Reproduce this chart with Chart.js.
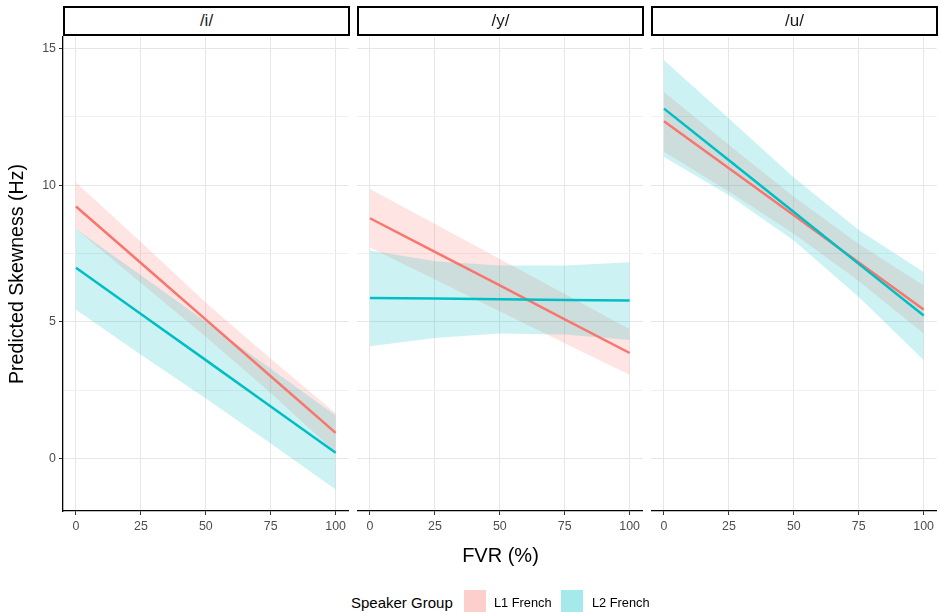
<!DOCTYPE html>
<html>
<head>
<meta charset="utf-8">
<script src="https://cdn.jsdelivr.net/npm/chart.js@4.4.1/dist/chart.umd.min.js"></script>
<style>
html,body{margin:0;padding:0;background:#fff;width:941px;height:612px;overflow:hidden;font-family:"Liberation Sans",Arial,sans-serif;}
canvas{position:absolute;top:0;}
.strip{position:absolute;top:6px;height:30px;box-sizing:border-box;border:2px solid #000;background:#fff;font-size:17px;color:#1a1a1a;text-align:center;line-height:26px;}
.txt{position:absolute;white-space:nowrap;color:#000;}
.key{position:absolute;top:590px;width:22px;height:22px;}
</style>
</head>
<body>
<canvas id="c1" width="350" height="545" style="left:0px"></canvas>
<canvas id="c2" width="287" height="545" style="left:357px"></canvas>
<canvas id="c3" width="287" height="545" style="left:651px"></canvas>

<div class="strip" id="s1" style="left:63px;width:287px;"></div>
<div class="strip" id="s2" style="left:357px;width:287px;"></div>
<div class="strip" id="s3" style="left:651px;width:287px;"></div>

<div class="txt" id="xtitle" style="left:400px;width:201px;text-align:center;top:543px;font-size:20px;line-height:24px;"></div>

<div class="txt" id="legTitle" style="left:351px;top:593px;font-size:15px;line-height:20px;"></div>
<div class="key" id="k1" style="left:464px;"></div>
<div class="txt" id="legL1" style="left:494px;top:594px;font-size:12.8px;line-height:18px;"></div>
<div class="key" id="k2" style="left:561px;"></div>
<div class="txt" id="legL2" style="left:592px;top:594px;font-size:12.8px;line-height:18px;"></div>

<script>
// ---------- data ----------
const facetLabels = ['/i/', '/y/', '/u/'];
const groupLabels = ['L1 French', 'L2 French'];
const legendTitle = 'Speaker Group';
const xTitle = 'FVR (%)';
const yTitle = 'Predicted Skewness (Hz)';
const fvr = [0, 25, 50, 75, 100];
const xTickValues = [0, 25, 50, 75, 100];
const yTickValues = [0, 2.5, 5, 7.5, 10, 12.5, 15];

// /i/
const iL1Fit = [9.22, 7.15, 5.08, 3.01, 0.94];
const iL1Lo  = [8.40, 6.42, 4.45, 2.40, 0.22];
const iL1Hi  = [10.10, 7.92, 5.70, 3.65, 1.66];
const iL2Fit = [6.98, 5.29, 3.60, 1.90, 0.21];
const iL2Lo  = [5.44, 3.80, 2.20, 0.55, -1.13];
const iL2Hi  = [8.40, 6.70, 5.00, 3.28, 1.57];

// /y/
const yL1Fit = [8.79, 7.56, 6.33, 5.09, 3.86];
const yL1Lo  = [7.72, 6.55, 5.39, 4.22, 3.06];
const yL1Hi  = [9.86, 8.58, 7.30, 6.02, 4.73];
const yL2Fit = [5.87, 5.85, 5.83, 5.80, 5.78];
const yL2Lo  = [4.11, 4.41, 4.57, 4.54, 4.34];
const yL2Hi  = [7.61, 7.22, 7.06, 7.06, 7.18];

// /u/
const uL1Fit = [12.34, 10.62, 8.90, 7.17, 5.45];
const uL1Lo  = [11.22, 9.77, 8.22, 6.49, 4.57];
const uL1Hi  = [13.41, 11.47, 9.58, 7.85, 6.33];
const uL2Fit = [12.80, 10.91, 9.02, 7.12, 5.23];
const uL2Lo  = [11.03, 9.63, 7.98, 5.91, 3.60];
const uL2Hi  = [14.57, 12.44, 10.28, 8.36, 6.82];

// ---------- styles ----------
const RED = '#F8766D';
const TEAL = '#00BFC4';
const RED_FILL = 'rgba(248,118,109,0.2)';
const TEAL_FILL = 'rgba(0,191,196,0.2)';
const FONT = '"Liberation Sans", Arial, sans-serif';

document.getElementById('s1').textContent = facetLabels[0];
document.getElementById('s2').textContent = facetLabels[1];
document.getElementById('s3').textContent = facetLabels[2];
document.getElementById('xtitle').textContent = xTitle;
document.getElementById('legTitle').textContent = legendTitle;
document.getElementById('legL1').textContent = groupLabels[0];
document.getElementById('legL2').textContent = groupLabels[1];
document.getElementById('k1').style.background = 'rgba(248,118,109,0.35)';
document.getElementById('k2').style.background = 'rgba(0,191,196,0.35)';

function pts(arr) { return fvr.map((x, i) => ({x: x, y: arr[i]})); }

function buildDatasets(l1Fit, l1Lo, l1Hi, l2Fit, l2Lo, l2Hi) {
  const band = (arr, fill, color, order) => ({
    data: pts(arr), borderWidth: 0, pointRadius: 0, fill: fill, order: order,
    backgroundColor: color, borderColor: 'rgba(0,0,0,0)'
  });
  return [
    band(l1Lo, false, RED_FILL, 13),
    band(l1Hi, 0, RED_FILL, 12),
    band(l2Lo, false, TEAL_FILL, 11),
    band(l2Hi, 2, TEAL_FILL, 10),
    {label: groupLabels[0], data: pts(l1Fit), borderColor: RED, borderWidth: 2.5, pointRadius: 0, fill: false, order: 1},
    {label: groupLabels[1], data: pts(l2Fit), borderColor: TEAL, borderWidth: 2.5, pointRadius: 0, fill: false, order: 0}
  ];
}

function makeChart(id, datasets, first) {
  new Chart(document.getElementById(id), {
    type: 'line',
    data: {datasets: datasets},
    options: {
      animation: false, responsive: false, devicePixelRatio: 1,
      layout: {padding: {top: 37, left: 0, right: 0, bottom: 0}},
      plugins: {legend: {display: false}, tooltip: {enabled: false}, filler: {propagate: false}},
      elements: {line: {tension: 0}, point: {radius: 0}},
      scales: {
        x: {
          type: 'linear', min: -5, max: 105,
          afterBuildTicks: s => { s.ticks = xTickValues.map(v => ({value: v})); },
          afterFit: s => { s.height = 34; },
          grid: {color: '#E6E6E6', lineWidth: 1, tickLength: 4, tickColor: '#333333', drawTicks: true},
          border: {display: true, color: '#000000', width: 1.3},
          ticks: {font: {family: FONT, size: 12.4}, color: '#4D4D4D', padding: 4, maxRotation: 0, autoSkip: false,
                  callback: v => String(v)}
        },
        y: {
          type: 'linear', min: -1.92, max: 15.42,
          afterBuildTicks: s => { s.ticks = yTickValues.map(v => ({value: v})); },
          afterFit: s => { s.width = first ? 63 : 0; },
          grid: {
            color: ctx => (ctx.tick && ctx.tick.value % 5 === 0) ? '#E6E6E6' : '#F0F0F0',
            lineWidth: 1,
            drawTicks: first, tickLength: 4,
            tickColor: ctx => (ctx.tick && ctx.tick.value % 5 === 0) ? '#333333' : 'rgba(0,0,0,0)'
          },
          border: {display: first, color: '#000000', width: 1.3},
          ticks: {display: first, font: {family: FONT, size: 12.4}, color: '#4D4D4D', padding: 3, autoSkip: false,
                  callback: v => (v % 5 === 0 ? String(v) : '')},
          title: {display: first, text: yTitle, color: '#000000', font: {family: FONT, size: 19.6}, padding: {top: 5.5, bottom: 0}}
        }
      }
    }
  });
}

makeChart('c1', buildDatasets(iL1Fit, iL1Lo, iL1Hi, iL2Fit, iL2Lo, iL2Hi), true);
makeChart('c2', buildDatasets(yL1Fit, yL1Lo, yL1Hi, yL2Fit, yL2Lo, yL2Hi), false);
makeChart('c3', buildDatasets(uL1Fit, uL1Lo, uL1Hi, uL2Fit, uL2Lo, uL2Hi), false);
</script>
</body>
</html>
